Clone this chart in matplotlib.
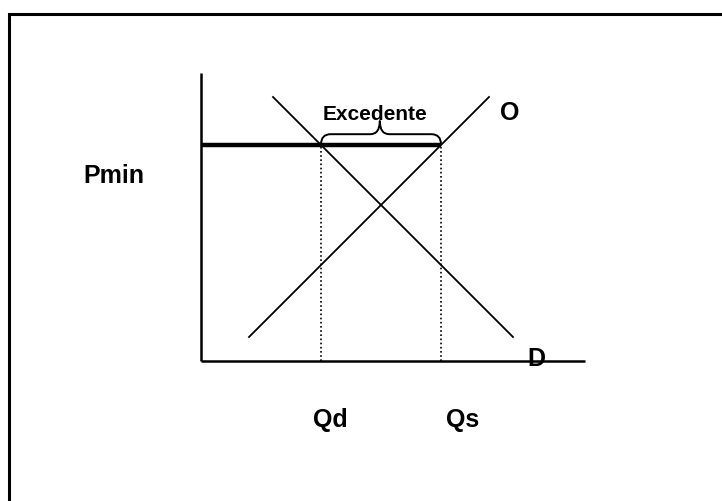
import matplotlib
matplotlib.use("Agg")
import matplotlib.pyplot as plt
from matplotlib.path import Path
from matplotlib.patches import PathPatch
import numpy as np

plt.rcParams['font.family'] = ['Liberation Sans', 'DejaVu Sans']

# Economic model data (quantity, price)
supply_q = [2, 12]
supply_p = [1, 11]
demand_q = [3, 13]
demand_p = [11, 1]
p_min = 9
q_d = 5
q_s = 10
axis_q_max = 16
axis_p_max = 12

labels = {"price": "Pmin", "qd": "Qd", "qs": "Qs", "supply": "O", "demand": "D",
          "surplus": "Excedente"}

fig = plt.figure(figsize=(7.22, 5.02), dpi=100)
ax = fig.add_axes([0, 0, 1, 1])
ax.set_xlim(-8.375, 21.708)
ax.set_ylim(-5.833, 15.083)
ax.axis('off')

# Outer frame (open to the right and bottom)
fx = 8.5 / 722
fy = 1 - 14.5 / 502
fig.add_artist(plt.Line2D([fx, fx, 1.0], [0.0, fy, fy], transform=fig.transFigure,
                          color='black', lw=2.2, solid_joinstyle='miter'))

# Axes
ax.plot([0, 0], [0, axis_p_max], color='black', lw=1.8, solid_capstyle='butt')
ax.plot([0, axis_q_max], [0, 0], color='black', lw=1.8, solid_capstyle='butt')

# Supply and demand
ax.plot(supply_q, supply_p, color='black', lw=1.3)
ax.plot(demand_q, demand_p, color='black', lw=1.3)

# Price floor
ax.plot([0, q_s], [p_min, p_min], color='black', lw=3.2, solid_capstyle='butt')

# Dotted drop lines
ax.plot([q_d, q_d], [0, p_min], color='black', lw=1.2, ls=(0, (1.0, 1.5)))
ax.plot([q_s, q_s], [0, p_min], color='black', lw=1.2, ls=(0, (1.0, 1.5)))

# Curly brace over surplus
mid = (q_d + q_s) / 2 - 0.05
y0 = p_min + 0.02
y1 = p_min + 0.45
y2 = p_min + 1.0
r = 0.4
verts = [
    (q_d, y0), (q_d, y1), (q_d + r, y1),
    (mid - r, y1),
    (mid, y1), (mid, y2),
    (mid, y1), (mid + r, y1),
    (q_s - r, y1),
    (q_s, y1), (q_s, y0),
]
codes = [Path.MOVETO, Path.CURVE3, Path.CURVE3,
         Path.LINETO,
         Path.CURVE3, Path.CURVE3,
         Path.CURVE3, Path.CURVE3,
         Path.LINETO,
         Path.CURVE3, Path.CURVE3]
ax.add_patch(PathPatch(Path(verts, codes), fill=False, lw=1.4, edgecolor='black',
                       capstyle='butt', joinstyle='round'))

# Labels
ax.text(-3.63, 7.75, labels["price"], fontsize=18, fontweight='bold', ha='center', va='center')
ax.text(q_d + 0.375, -2.42, labels["qd"], fontsize=18, fontweight='bold', ha='center', va='center')
ax.text(q_s + 0.92, -2.42, labels["qs"], fontsize=18, fontweight='bold', ha='center', va='center')
ax.text(supply_q[1] + 0.875, 10.375, labels["supply"], fontsize=18, fontweight='bold', ha='center', va='center')
ax.text(demand_q[1] + 0.96, 0.12, labels["demand"], fontsize=18, fontweight='bold', ha='center', va='center')
ax.text(7.27, 10.3, labels["surplus"], fontsize=15, fontweight='bold', ha='center', va='center')

fig.savefig("out.png", dpi=100)
